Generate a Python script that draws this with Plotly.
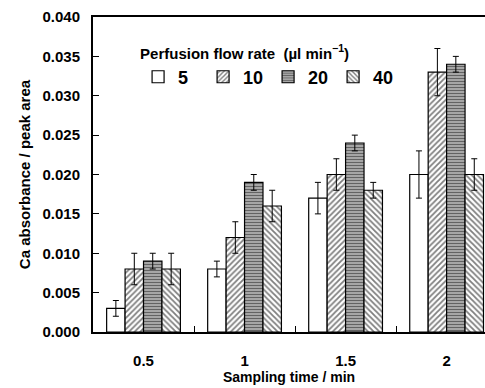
import plotly.graph_objects as go

categories = ["0.5", "1", "1.5", "2"]
series_names = ["5", "10", "20", "40"]
values = {
    "5":  [0.003, 0.008, 0.017, 0.020],
    "10": [0.008, 0.012, 0.020, 0.033],
    "20": [0.009, 0.019, 0.024, 0.034],
    "40": [0.008, 0.016, 0.018, 0.020],
}
errors = {
    "5":  [0.001, 0.001, 0.002, 0.003],
    "10": [0.002, 0.002, 0.002, 0.003],
    "20": [0.001, 0.001, 0.001, 0.001],
    "40": [0.002, 0.002, 0.001, 0.002],
}
patterns = {
    "5":  dict(shape="", bgcolor="white"),
    "10": dict(shape="/", fgcolor="black", bgcolor="white", size=4, solidity=0.45),
    "20": dict(shape="-", fgcolor="#111111", bgcolor="#b4b4b4", size=3, solidity=0.45),
    "40": dict(shape="\\", fgcolor="black", bgcolor="white", size=4, solidity=0.45),
}

fig = go.Figure()
for name in series_names:
    fig.add_trace(go.Bar(
        x=categories, y=values[name], name=name,
        marker=dict(color="white", line=dict(color="black", width=1.2),
                    pattern=patterns[name]),
        error_y=dict(type="data", array=errors[name], color="black",
                     thickness=1, width=3),
    ))

font = "Liberation Sans, Arial, sans-serif"
fig.update_layout(
    width=485, height=388,
    margin=dict(l=93, r=0, t=17, b=56),
    paper_bgcolor="white", plot_bgcolor="white",
    barmode="group", bargap=0.27, bargroupgap=0,
    font=dict(family=font, color="black"),
    showlegend=True,
    legend=dict(
        orientation="h", x=0.115, y=0.93, xanchor="left", yanchor="top",
        title=dict(text="<b>Perfusion flow rate  (µl min<sup>−1</sup>)</b>",
                   side="top", font=dict(size=15, family=font)),
        font=dict(size=18, family=font, weight="bold"),
        bgcolor="rgba(0,0,0,0)", itemwidth=30, tracegroupgap=0,
        entrywidth=20, entrywidthmode="pixels",
    ),
    xaxis=dict(
        type="category", range=[-0.5, 3.38],
        showline=True, linecolor="black", linewidth=2, mirror=True,
        ticks="inside", tickson="boundaries", ticklen=6, tickcolor="black",
        tickfont=dict(size=15, family=font, weight="bold"),
        ticklabelstandoff=14,
        title=dict(text="<b>Sampling time / min</b>", font=dict(size=14, family=font), standoff=2),
        showgrid=False,
    ),
    yaxis=dict(
        range=[0, 0.040], dtick=0.005, tickformat=".3f",
        showline=True, linecolor="black", linewidth=2,
        ticks="inside", ticklen=6, tickcolor="black",
        tickfont=dict(size=15, family=font, weight="bold"),
        ticklabelstandoff=8,
        title=dict(text="<b>Ca absorbance / peak area</b>", font=dict(size=15, family=font), standoff=8),
        showgrid=False, zeroline=False,
    ),
)

fig.write_html("out.html")
